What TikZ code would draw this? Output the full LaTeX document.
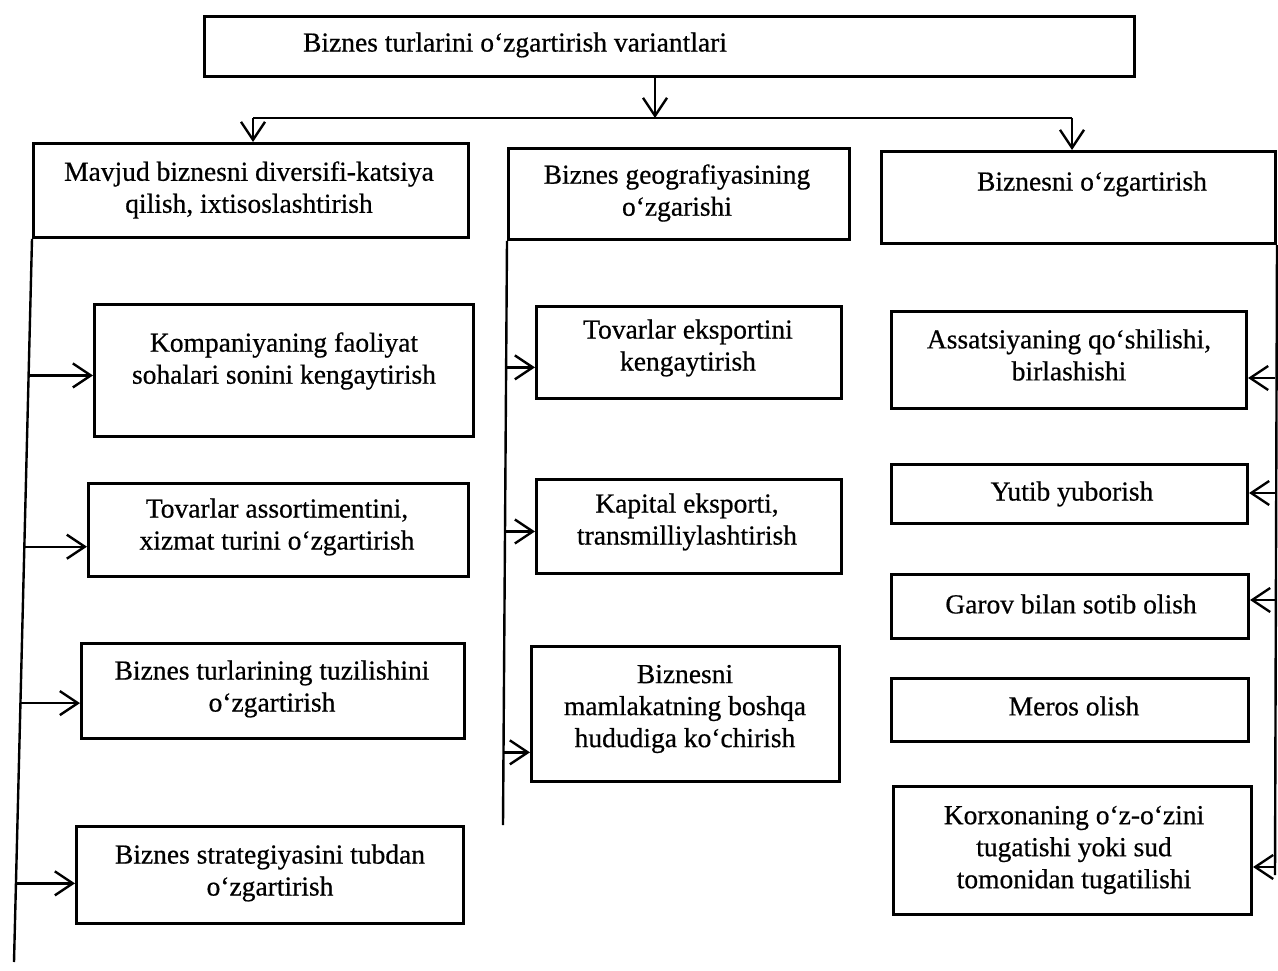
\documentclass[tikz,border=0pt]{standalone}
\usepackage{fontspec}
\setmainfont{Liberation Serif}[FakeBold=0.6]
\usetikzlibrary{arrows.meta,calc}
\newcommand\mybox[5]{\node[boxnode,minimum width={#4-#2},minimum height={#5-#3}] (#1) at (#2,#3) {};}
\begin{document}
\begin{tikzpicture}[x=1pt,y=-1pt,
  boxnode/.style={draw, line width=3pt, inner sep=0pt, anchor=north west},
  txt/.style={align=center, font=\fontsize{27.5}{32}\selectfont, inner sep=0pt},
  line/.style={line width=2.4pt},
  arr/.style={line width=2.4pt, -{Straight Barb[length=18pt,width=24pt,line width=2.4pt]}}]
\useasboundingbox (0,0) rectangle (1278,971);

% boxes
\mybox{top}{203}{15}{1133}{75}
\mybox{H1}{32}{142}{467}{236}
\mybox{H2}{507}{147}{848}{238}
\mybox{H3}{880}{150}{1274}{242}
\mybox{L1}{93}{303}{472}{435}
\mybox{L2}{87}{482}{467}{575}
\mybox{L3}{80}{642}{463}{737}
\mybox{L4}{75}{825}{462}{922}
\mybox{M1}{535}{305}{840}{397}
\mybox{M2}{535}{478}{840}{572}
\mybox{M3}{530}{645}{838}{780}
\mybox{R1}{890}{310}{1245}{407}
\mybox{R2}{890}{463}{1246}{522}
\mybox{R3}{890}{573}{1247}{637}
\mybox{R4}{890}{677}{1247}{740}
\mybox{R5}{892}{785}{1250}{913}

% texts
\node[txt] (ttop) at (515,45) {Biznes turlarini o‘zgartirish variantlari};
\node[txt] (tH1) at (249,190) {Mavjud biznesni diversifi-katsiya\\qilish, ixtisoslashtirish};
\node[txt] (tH2) at (677,193) {Biznes geografiyasining\\o‘zgarishi};
\node[txt] (tH3) at (1092,184) {Biznesni o‘zgartirish};
\node[txt] (tL1) at (284,361) {Kompaniyaning faoliyat\\sohalari sonini kengaytirish};
\node[txt] (tL2) at (277,527) {Tovarlar assortimentini,\\xizmat turini o‘zgartirish};
\node[txt] (tL3) at (272,689) {Biznes turlarining tuzilishini\\o‘zgartirish};
\node[txt] (tL4) at (270,873) {Biznes strategiyasini tubdan\\o‘zgartirish};
\node[txt] (tM1) at (688,348) {Tovarlar eksportini\\kengaytirish};
\node[txt] (tM2) at (687,522) {Kapital eksporti,\\transmilliylashtirish};
\node[txt] (tM3) at (685,709) {Biznesni\\mamlakatning boshqa\\hududiga ko‘chirish};
\node[txt] (tR1) at (1069,355) {Assatsiyaning qo‘shilishi,\\birlashishi};
\node[txt] (tR2) at (1072,494) {Yutib yuborish};
\node[txt] (tR3) at (1071,604) {Garov bilan sotib olish};
\node[txt] (tR4) at (1074,706) {Meros olish};
\node[txt] (tR5) at (1074,850) {Korxonaning o‘z-o‘zini\\tugatishi yoki sud\\tomonidan tugatilishi};

% top distribution
\coordinate (busL) at (253,118);
\coordinate (busM) at (655,118);
\coordinate (busR) at (1072,118);
\draw[arr] (top.south -| busM) -- (busM);
\draw[line] (busL) -- (busR);
\draw[arr] (busL) -- (H1.north -| busL);
\draw[arr] (busR) -- (H3.north -| busR);

% left spine
\coordinate (sLb) at (14,962);
\draw[line] (H1.south west) -- (sLb);
\coordinate (a1) at ($(H1.south west)!0.1887!(sLb)$);
\coordinate (a2) at ($(H1.south west)!0.4256!(sLb)$);
\coordinate (a3) at ($(H1.south west)!0.6419!(sLb)$);
\coordinate (a4) at ($(H1.south west)!0.8912!(sLb)$);
\draw[arr] (a1) -- (a1 -| L1.west);
\draw[arr] (a2) -- (a2 -| L2.west);
\draw[arr] (a3) -- (a3 -| L3.west);
\draw[arr] (a4) -- (a4 -| L4.west);

% middle spine
\coordinate (sMb) at (503,825);
\draw[line] (H2.south west) -- (sMb);
\coordinate (m1) at ($(H2.south west)!0.2164!(sMb)$);
\coordinate (m2) at ($(H2.south west)!0.4974!(sMb)$);
\coordinate (m3) at ($(H2.south west)!0.8756!(sMb)$);
\draw[arr] (m1) -- (m1 -| M1.west);
\draw[arr] (m2) -- (m2 -| M2.west);
\draw[arr] (m3) -- (m3 -| M3.west);

% right spine
\coordinate (sRb) at (1275,875);
\draw[line] (H3.south east) -- (sRb);
\coordinate (b1) at (1275,378);
\coordinate (b2) at (1275,493);
\coordinate (b3) at (1275,600);
\coordinate (b4) at (1275,867);
\draw[arr] (b1) -- (b1 -| R1.east);
\draw[arr] (b2) -- (b2 -| R2.east);
\draw[arr] (b3) -- (b3 -| R3.east);
\draw[arr] (b4) -- (b4 -| R5.east);
\end{tikzpicture}
\end{document}
